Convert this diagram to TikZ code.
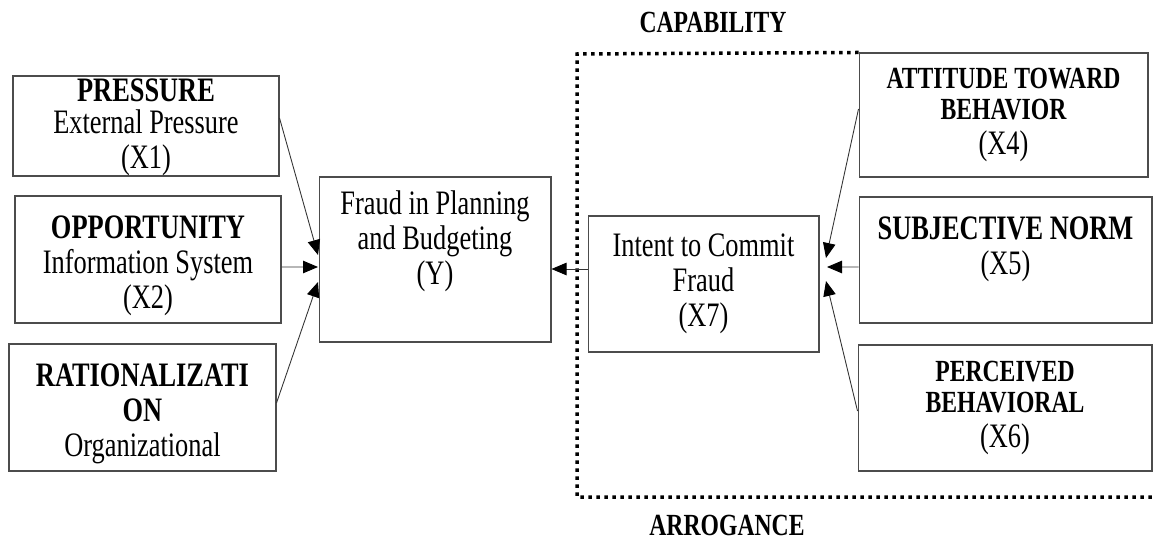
\documentclass[tikz,border=0pt]{standalone}
\usepackage{fontspec}
\setmainfont{Liberation Serif}[FakeStretch=0.77]
\usetikzlibrary{arrows.meta}
\newcommand\bigtxt{\fontsize{19.5}{19.9}\selectfont}
\newcommand\smalltxt{\fontsize{17.5}{15.4}\selectfont}
\tikzset{
  box/.style={draw=black!70, line width=0.6pt, inner sep=0pt, align=center, font=\bigtxt},
  arr/.style={draw=black!80, line width=0.5pt, -{Triangle[length=0.3cm,width=0.25cm,color=black]}},
  capline/.style={line width=0.07cm, dash pattern=on 0.07cm off 0.09cm},
  hdr/.style={font=\smalltxt\bfseries, inner sep=0pt}
}
\begin{document}
\begin{tikzpicture}[x=0.02cm,y=-0.02cm]
  \useasboundingbox (0,0) rectangle (1156,544);
  % left side: fraud triangle
  \node[box, minimum width=5.32cm, minimum height=2cm] (x1) at (146,126)
    {\textbf{PRESSURE}\\[-0.06cm]External Pressure\\(X1)\\[-0.62cm]\mbox{}};
  \node[box, minimum width=5.32cm, minimum height=2.54cm] (x2) at (148,259.5)
    {\textbf{OPPORTUNITY}\\Information System\\(X2)\\[-0.8cm]\mbox{}};
  \node[box, minimum width=5.34cm, minimum height=2.54cm] (x3) at (142.5,407.5)
    {\textbf{RATIONALIZATI}\\\textbf{ON}\\Organizational\\[-0.8cm]\mbox{}};
  \node[box, minimum width=4.64cm, minimum height=3.3cm] (y) at (435,259.5)
    {Fraud in Planning\\and Budgeting\\(Y)\\[0.18cm]\mbox{}};
  % right side: theory of planned behavior
  \node[box, minimum width=4.62cm, minimum height=2.72cm] (x7) at (703.5,284)
    {Intent to Commit\\Fraud\\(X7)};
  \node[box, minimum width=5.78cm, minimum height=2.48cm] (x4) at (1003.5,115)
    {\smalltxt\bfseries ATTITUDE TOWARD\\[-0.07cm]\smalltxt\bfseries BEHAVIOR\\(X4)};
  \node[box, minimum width=5.86cm, minimum height=2.52cm] (x5) at (1005.5,260)
    {\textbf{SUBJECTIVE NORM}\\(X5)\\[-0.12cm]\mbox{}};
  \node[box, minimum width=5.88cm, minimum height=2.52cm] (x6) at (1005,408)
    {\smalltxt\bfseries PERCEIVED\\[-0.07cm]\smalltxt\bfseries BEHAVIORAL\\(X6)};

  \node[hdr] (cap) at (713,22) {CAPABILITY};
  \node[hdr] (arg) at (727,525) {ARROGANCE};

  % dotted frame
  \draw[capline] (x4.north west) -- (577,54) -- (577,497) -- (1156,497);

  \coordinate (yin1) at (318,255);
  \coordinate (yin2) at (318,267);
  \coordinate (yin3) at (318,282);
  \coordinate (xin1) at (826,258);
  \coordinate (xin2) at (827,267);
  \coordinate (xin3) at (826,281);

  \draw[arr] ([yshift=0.16cm]x1.east) -- (yin1);
  \draw[arr] ([yshift=-0.15cm]x2.east) -- (yin2);
  \draw[arr] ([yshift=0.09cm]x3.east) -- (yin3);
  \draw[arr] ([yshift=0.3cm]x7.west) -- ([yshift=0.3cm]x7.west -| y.east);
  \draw[arr] ([yshift=0.12cm]x4.west) -- (xin1);
  \draw[arr] ([yshift=-0.14cm]x5.west) -- (xin2);
  \draw[arr] ([yshift=-0.06cm]x6.west) -- (xin3);
\end{tikzpicture}
\end{document}
